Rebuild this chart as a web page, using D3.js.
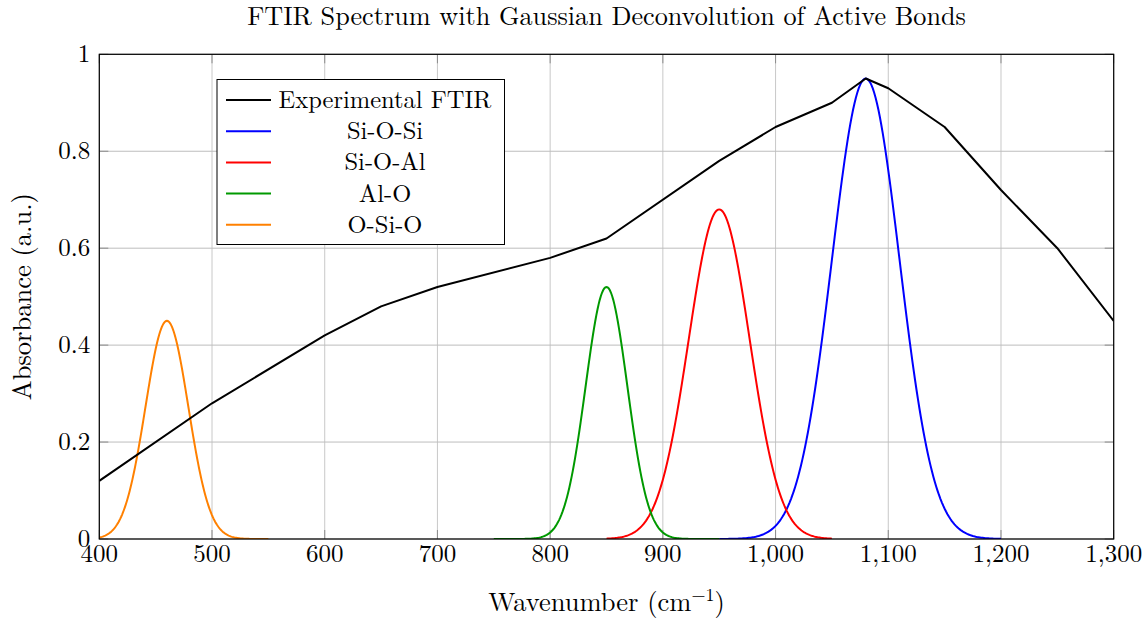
<!DOCTYPE html>
<html>
<head>
<meta charset="utf-8">
<script src="https://cdn.jsdelivr.net/npm/d3@7"></script>
<style>
  body { margin: 0; background: #fff; }
  svg text { font-family: "Latin Modern Roman", "CMU Serif", "Liberation Serif", serif; fill: #000; }
</style>
</head>
<body>
<svg id="canvas"></svg>
<script>
var w = 1148;
var h = 619;
var margin = {left: 99.3, right: 34.3, top: 54.3, bottom: 80};

// experimental spectrum
var ftirX = [400, 500, 600, 650, 700, 800, 850, 950, 1000, 1050, 1080, 1100, 1150, 1200, 1250, 1300];
var ftirY = [0.12, 0.28, 0.42, 0.48, 0.52, 0.58, 0.62, 0.78, 0.85, 0.90, 0.95, 0.93, 0.85, 0.72, 0.60, 0.45];

// fitted gaussian bands: centre, height, width (sigma), plotted range
var bandNames = ['Si-O-Si', 'Si-O-Al', 'Al-O', 'O-Si-O'];
var bandCenter = [1080, 950, 850, 460];
var bandHeight = [0.95, 0.68, 0.52, 0.45];
var bandSigma = [30, 27, 18.5, 19];
var bandFrom = [950, 850, 750, 400];
var bandTo = [1200, 1050, 950, 550];
var bandColour = ['#0000ff', '#ff0000', '#009900', '#ff8000'];

var xTicks = [400, 500, 600, 700, 800, 900, 1000, 1100, 1200, 1300];
var yTicks = [0, 0.2, 0.4, 0.6, 0.8, 1];

var svg = d3.select('#canvas')
  .attr('width', w)
  .attr('height', h)
  .attr('viewBox', [0, 0, w, h]);

var x = d3.scaleLinear().domain([400, 1300]).range([margin.left, w - margin.right]);
var y = d3.scaleLinear().domain([0, 1]).range([539, margin.top]);

var x0 = x.range()[0], x1 = x.range()[1];
var y0 = y.range()[0], y1 = y.range()[1];

// grid
svg.append('g')
  .selectAll('line')
  .data(xTicks)
  .join('line')
  .attr('x1', d => x(d)).attr('x2', d => x(d))
  .attr('y1', y1).attr('y2', y0)
  .style('stroke', '#c8c8c8')
  .style('stroke-width', 1);
svg.append('g')
  .selectAll('line')
  .data(yTicks)
  .join('line')
  .attr('x1', x0).attr('x2', x1)
  .attr('y1', d => y(d)).attr('y2', d => y(d))
  .style('stroke', '#bdbdbd')
  .style('stroke-width', 1);

// inward ticks on all sides
var tl = 9;
var ticks = svg.append('g').style('stroke', '#8c8c8c').style('stroke-width', 1);
xTicks.forEach(function(t){
  ticks.append('line').attr('x1', x(t)).attr('x2', x(t)).attr('y1', y0).attr('y2', y0 - tl);
  ticks.append('line').attr('x1', x(t)).attr('x2', x(t)).attr('y1', y1).attr('y2', y1 + tl);
});
yTicks.forEach(function(t){
  ticks.append('line').attr('x1', x0).attr('x2', x0 + tl).attr('y1', y(t)).attr('y2', y(t));
  ticks.append('line').attr('x1', x1).attr('x2', x1 - tl).attr('y1', y(t)).attr('y2', y(t));
});

// tick labels
var fmt = d3.format(',');
svg.append('g')
  .selectAll('text')
  .data(xTicks)
  .join('text')
  .attr('x', d => x(d))
  .attr('y', y0 + 22.5)
  .attr('text-anchor', 'middle')
  .style('font-size', '25px')
  .text(d => fmt(d));
svg.append('g')
  .selectAll('text')
  .data(yTicks)
  .join('text')
  .attr('x', x0 - 9)
  .attr('y', d => y(d) + 7.5)
  .attr('text-anchor', 'end')
  .style('font-size', '25px')
  .text(d => d3.format('')(d));

// curves, clipped to the plot box
svg.append('clipPath').attr('id', 'clip')
  .append('rect').attr('x', x0).attr('y', y1).attr('width', x1 - x0).attr('height', y0 - y1);
var plot = svg.append('g').attr('clip-path', 'url(#clip)');

var line = d3.line().x(d => x(d[0])).y(d => y(d[1]));

bandNames.forEach(function(n, i){
  var pts = d3.range(0, 201).map(function(k){
    var xv = bandFrom[i] + (bandTo[i] - bandFrom[i]) * k / 200;
    var dx = xv - bandCenter[i];
    return [xv, bandHeight[i] * Math.exp(-dx * dx / (2 * bandSigma[i] * bandSigma[i]))];
  });
  plot.append('path')
    .attr('d', line(pts))
    .style('fill', 'none')
    .style('stroke', bandColour[i])
    .style('stroke-width', 2);
});

plot.append('path')
  .attr('d', line(ftirX.map((v, i) => [v, ftirY[i]])))
  .style('fill', 'none')
  .style('stroke', '#000')
  .style('stroke-width', 2)
  .style('stroke-linejoin', 'round');

// axis box
svg.append('rect')
  .attr('x', x0).attr('y', y1)
  .attr('width', x1 - x0).attr('height', y0 - y1)
  .style('fill', 'none')
  .style('stroke', '#000')
  .style('stroke-width', 1.2);

// legend
var lg = svg.append('g');
lg.append('rect')
  .attr('x', 217).attr('y', 79.5)
  .attr('width', 287.5).attr('height', 165)
  .style('fill', '#fff')
  .style('stroke', '#000')
  .style('stroke-width', 1);
var legNames = ['Experimental FTIR'].concat(bandNames);
var legColours = ['#000'].concat(bandColour);
legNames.forEach(function(n, i){
  var yy = 100 + i * 31.2;
  lg.append('line')
    .attr('x1', 226).attr('x2', 271)
    .attr('y1', yy).attr('y2', yy)
    .style('stroke', legColours[i])
    .style('stroke-width', 2);
  lg.append('text')
    .attr('x', 385).attr('y', yy + 8)
    .attr('text-anchor', 'middle')
    .style('font-size', '24.5px')
    .text(n);
});

// title and axis labels
svg.append('text')
  .attr('x', (x0 + x1) / 2).attr('y', 25)
  .attr('text-anchor', 'middle')
  .style('font-size', '26.2px')
  .text('FTIR Spectrum with Gaussian Deconvolution of Active Bonds');

var xl = svg.append('text')
  .attr('x', (x0 + x1) / 2).attr('y', 611)
  .attr('text-anchor', 'middle')
  .style('font-size', '26.5px');
xl.append('tspan').text('Wavenumber (cm');
xl.append('tspan').attr('dy', -10).style('font-size', '18px').text('\u22121');
xl.append('tspan').attr('dy', 10).text(')');

svg.append('text')
  .attr('transform', 'translate(31,' + ((y0 + y1) / 2) + ') rotate(-90)')
  .attr('text-anchor', 'middle')
  .style('font-size', '26.5px')
  .text('Absorbance (a.u.)');
</script>
</body>
</html>
